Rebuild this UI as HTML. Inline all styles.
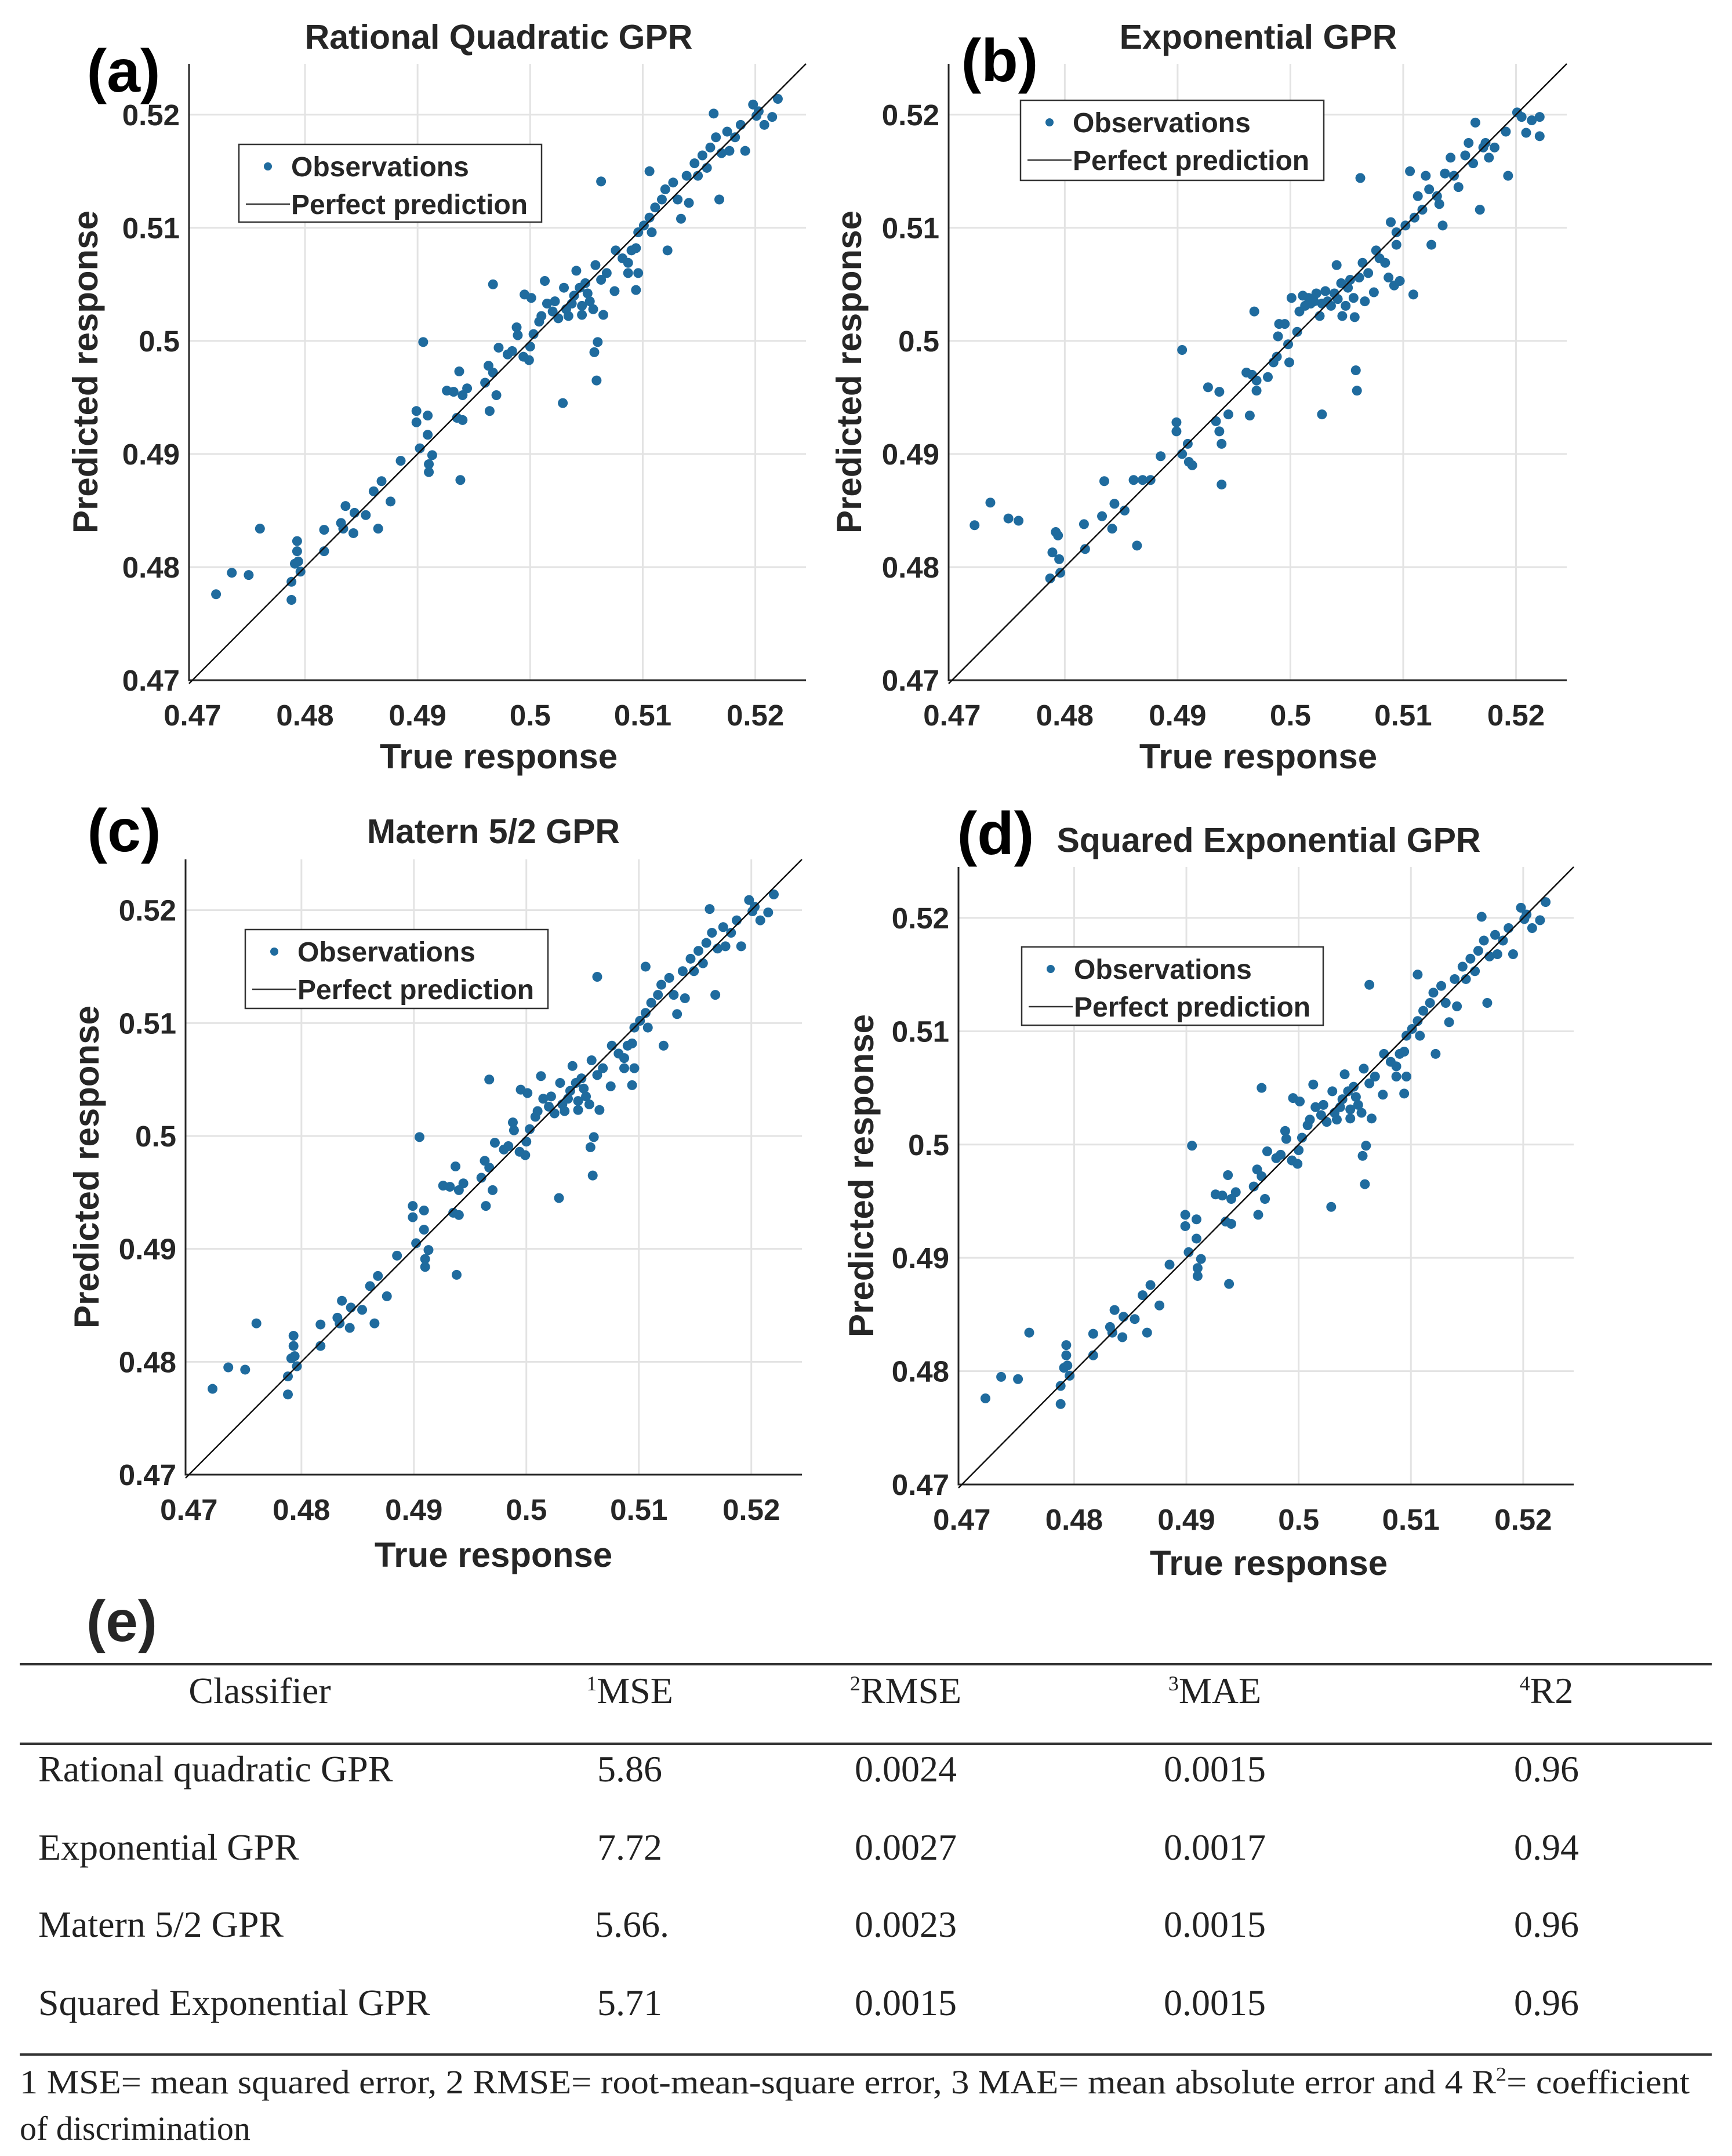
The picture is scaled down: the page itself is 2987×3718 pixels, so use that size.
<!DOCTYPE html>
<html><head><meta charset="utf-8"><style>
html,body{margin:0;padding:0;background:#fff;}
svg{display:block;}
.b{font-family:"Liberation Sans",Arial,sans-serif;font-weight:bold;fill:#262626;}
.s{font-family:"Liberation Serif","Times New Roman",serif;fill:#222;}
</style></head><body>
<svg id="fig" width="2987" height="3718" viewBox="0 0 2987 3718" xmlns="http://www.w3.org/2000/svg">
<rect width="2987" height="3718" fill="#fff"/>
<g id="plots"></g>
<g>
<line x1="34" y1="2870" x2="2952" y2="2870" stroke="#333" stroke-width="4"/>
<line x1="34" y1="3007" x2="2952" y2="3007" stroke="#333" stroke-width="4"/>
<line x1="34" y1="3543" x2="2952" y2="3543" stroke="#333" stroke-width="4"/>
<text class="b" x="210" y="2830" font-size="100" text-anchor="middle">(e)</text>
<g class="s" font-size="64" text-anchor="middle">
<text x="448" y="2937">Classifier</text>
<text x="1086" y="2937"><tspan font-size="36" dy="-22">1</tspan><tspan dy="22">MSE</tspan></text>
<text x="1562" y="2937"><tspan font-size="36" dy="-22">2</tspan><tspan dy="22">RMSE</tspan></text>
<text x="2095" y="2937"><tspan font-size="36" dy="-22">3</tspan><tspan dy="22">MAE</tspan></text>
<text x="2667" y="2937"><tspan font-size="36" dy="-22">4</tspan><tspan dy="22">R2</tspan></text>
</g>
<g class="s" font-size="64">
<text x="66" y="3072">Rational quadratic GPR</text>
<text x="66" y="3207">Exponential GPR</text>
<text x="66" y="3340">Matern 5/2 GPR</text>
<text x="66" y="3475">Squared Exponential GPR</text>
<g text-anchor="middle">
<text x="1086" y="3072">5.86</text><text x="1562" y="3072">0.0024</text><text x="2095" y="3072">0.0015</text><text x="2667" y="3072">0.96</text>
<text x="1086" y="3207">7.72</text><text x="1562" y="3207">0.0027</text><text x="2095" y="3207">0.0017</text><text x="2667" y="3207">0.94</text>
<text x="1090" y="3340">5.66.</text><text x="1562" y="3340">0.0023</text><text x="2095" y="3340">0.0015</text><text x="2667" y="3340">0.96</text>
<text x="1086" y="3475">5.71</text><text x="1562" y="3475">0.0015</text><text x="2095" y="3475">0.0015</text><text x="2667" y="3475">0.96</text>
</g>
</g>
<g class="s" font-size="58">
<text x="34" y="3610" textLength="2880" lengthAdjust="spacingAndGlyphs">1 MSE= mean squared error, 2 RMSE= root-mean-square error, 3 MAE= mean absolute error and 4 R<tspan font-size="34" dy="-22">2</tspan><tspan dy="22">= coefficient</tspan></text>
<text x="34" y="3690">of discrimination</text>
</g>
</g>
</svg>
<script>
const xTicks = [0.47, 0.48, 0.49, 0.5, 0.51, 0.52];
const yTicks = [0.47, 0.48, 0.49, 0.5, 0.51, 0.52];
const tickLabels = ["0.47", "0.48", "0.49", "0.5", "0.51", "0.52"];
const panelTitles = ["Rational Quadratic GPR", "Exponential GPR", "Matern 5/2 GPR", "Squared Exponential GPR"];

const aTrue = [.4721,.4735,.4750,.4760,.4788,.4788,.4791,.4793,.4793,.4796,.4794,.4817,.4817,.4832,.4836,.4834,.4843,.4844,.4854,.4861,.4865,.4868,.4876,.4885,.4899,.4899,.4902,.4905,.4909,.4909,.4910,.4910,.4913,.4926,.4932,.4935,.4937,.4940,.4938,.4940,.4944,.4960,.4964,.4963,.4967,.4970,.4972,.4967,.4980,.4984,.4988,.4989,.4994,.4999,.5000,.4995,.5001,.5003,.5008,.5013,.5010,.5015,.5020,.5022,.5025,.5029,.5030,.5032,.5034,.5037,.5039,.5041,.5044,.5046,.5046,.5049,.5051,.5053,.5056,.5058,.5057,.5059,.5060,.5063,.5063,.5065,.5068,.5075,.5076,.5082,.5087,.5090,.5094,.5096,.5096,.5087,.5094,.5101,.5106,.5106,.5108,.5111,.5117,.5120,.5122,.5127,.5131,.5134,.5139,.5141,.5146,.5149,.5153,.5157,.5160,.5163,.5165,.5168,.5170,.5175,.5177,.5182,.5187,.5191,.5198,.5203,.5208,.5215,.5220,.5201];
const aPred = [.4776,.4795,.4793,.4834,.4771,.4787,.4803,.4823,.4814,.4796,.4805,.4814,.4833,.4839,.4854,.4834,.4830,.4848,.4846,.4867,.4834,.4876,.4858,.4894,.4938,.4928,.4905,.4999,.4917,.4934,.4891,.4884,.4899,.4956,.4955,.4932,.4973,.4952,.4877,.4930,.4958,.4963,.4938,.4978,.4972,.4952,.4994,.5050,.4988,.4991,.5012,.5005,.4986,.4983,.4995,.5041,.5038,.5006,.5017,.5053,.5022,.5033,.5026,.5035,.5020,.4945,.5047,.5028,.5022,.5033,.5040,.5062,.5047,.5031,.5023,.5051,.5042,.5035,.5028,.5067,.4990,.4965,.4999,.5141,.5054,.5023,.5060,.5044,.5080,.5073,.5069,.5080,.5082,.5096,.5060,.5060,.5045,.5102,.5109,.5150,.5096,.5118,.5125,.5134,.5080,.5140,.5125,.5108,.5146,.5122,.5157,.5146,.5164,.5153,.5171,.5201,.5180,.5125,.5166,.5185,.5168,.5180,.5191,.5168,.5209,.5203,.5191,.5198,.5214,.5199];

const bTrue = [.4720,.4734,.4750,.4759,.4787,.4789,.4792,.4794,.4795,.4796,.4817,.4818,.4833,.4835,.4842,.4844,.4853,.4861,.4864,.4869,.4876,.4885,.4899,.4899,.4904,.4904,.4909,.4910,.4913,.4927,.4934,.4937,.4937,.4939,.4939,.4945,.4961,.4964,.4968,.4966,.4970,.4970,.4980,.4985,.4988,.4989,.4990,.4995,.4998,.4999,.5001,.5006,.5008,.5011,.5013,.5016,.5018,.5021,.5023,.5026,.5028,.5028,.5031,.5033,.5036,.5039,.5041,.5042,.5045,.5046,.5049,.5051,.5053,.5056,.5057,.5058,.5059,.5061,.5062,.5064,.5066,.5069,.5074,.5076,.5079,.5084,.5087,.5089,.5092,.5094,.5094,.5097,.5102,.5106,.5109,.5110,.5113,.5117,.5120,.5123,.5125,.5130,.5132,.5135,.5137,.5142,.5145,.5149,.5155,.5158,.5162,.5164,.5168,.5171,.5173,.5176,.5181,.5191,.5193,.5201,.5205,.5209,.5214,.5221,.5221];
const bPred = [.4837,.4857,.4843,.4841,.4790,.4813,.4831,.4828,.4807,.4795,.4838,.4816,.4845,.4876,.4834,.4856,.4850,.4877,.4819,.4877,.4877,.4898,.4928,.4920,.4992,.4900,.4909,.4893,.4890,.4959,.4929,.4955,.4920,.4909,.4873,.4935,.4972,.4934,.5026,.4970,.4956,.4965,.4968,.4981,.4986,.5004,.5015,.5015,.4997,.4981,.5038,.5008,.5026,.5040,.5031,.5038,.5033,.5035,.5042,.5022,.4935,.5033,.5044,.5035,.5031,.5042,.5067,.5037,.5051,.5022,.5031,.5047,.5054,.5038,.5021,.4974,.4956,.5056,.5144,.5069,.5035,.5060,.5043,.5080,.5073,.5069,.5056,.5105,.5049,.5085,.5096,.5053,.5102,.5150,.5041,.5109,.5128,.5116,.5146,.5134,.5085,.5128,.5121,.5102,.5148,.5162,.5146,.5136,.5164,.5175,.5157,.5193,.5116,.5171,.5175,.5162,.5171,.5185,.5146,.5202,.5198,.5184,.5195,.5198,.5181];

const cTrue = [...aTrue];
const cPred = [...aPred];
const dTrue = [...aTrue];
const dPred = [...aPred];

const NS = "http://www.w3.org/2000/svg";
function mk(tag, attrs, parent) {
  const e = document.createElementNS(NS, tag);
  for (const k in attrs) e.setAttribute(k, attrs[k]);
  parent.appendChild(e);
  return e;
}
const panels = [
  {id:"a", L:326, R:1390, T:110, B:1173, tx:860, ty:84, lx:213, ly:158, xlx:860, xly:1325, ylx:168, leg:[412,249,522,134], xs:aTrue, ys:aPred},
  {id:"b", L:1636, R:2702, T:110, B:1173, tx:2170, ty:84, lx:1724, ly:140, xlx:2170, xly:1325, ylx:1485, leg:[1760,173,523,138], xs:bTrue, ys:bPred},
  {id:"c", L:320, R:1383, T:1482, B:2543, tx:851, ty:1454, lx:214, ly:1468, xlx:851, xly:2702, ylx:170, leg:[423,1603,522,136], xs:cTrue, ys:cPred},
  {id:"d", L:1653, R:2714, T:1495, B:2560, tx:2188, ty:1469, lx:1717, ly:1473, xlx:2188, xly:2716, ylx:1506, leg:[1762,1633,520,135], xs:dTrue, ys:dPred}
];
const XMIN = 0.4697, XMAX = 0.5245, YMIN = 0.47, YMAX = 0.5245;
const root = document.getElementById("plots");
panels.forEach((p, i) => {
  const g = mk("g", {}, root);
  
  
  const sx = v => p.L + (v - XMIN) / (XMAX - XMIN) * (p.R - p.L);
  const sy = v => p.B - (v - YMIN) / (YMAX - YMIN) * (p.B - p.T);
  xTicks.forEach(t => { if (t > XMIN + 0.001) { const l = mk("line", {x1:sx(t), x2:sx(t), y1:p.T, y2:p.B, stroke:"#e3e3e3", "stroke-width":3}, g);
      } });
  yTicks.forEach(t => { if (t > YMIN + 0.001) { const l = mk("line", {x1:p.L, x2:p.R, y1:sy(t), y2:sy(t), stroke:"#e3e3e3", "stroke-width":3}, g);
      } });
  const ax = mk("path", {d:`M${p.L} ${p.T}V${p.B}H${p.R}`, fill:"none", stroke:"#262626", "stroke-width":3}, g);
  
  
  xTicks.forEach((t, k) => { const tx = mk("text", {x:sx(t), y:p.B + 78, "font-size":51, "text-anchor":"middle", class:"b"}, g); tx.textContent = tickLabels[k];
      });
  yTicks.forEach((t, k) => { const tx = mk("text", {x:p.L - 16, y:sy(t) + 18, "font-size":51, "text-anchor":"end", class:"b"}, g); tx.textContent = tickLabels[k];
      });
  p.xs.forEach((v, k) => { const c = mk("circle", {cx:sx(v), cy:sy(p.ys[k]), r:8.5, fill:"#1f6b9e"}, g);
      });
  const pl = mk("line", {x1:sx(XMIN), y1:sy(XMIN), x2:sx(XMAX), y2:sy(XMAX), stroke:"#111", "stroke-width":2.5}, g);
  
  
  const ti = mk("text", {x:p.tx, y:p.ty, "font-size":59, "text-anchor":"middle", class:"b"}, g); ti.textContent = panelTitles[i];
   
  const lb = mk("text", {x:p.lx, y:p.ly, "font-size":104, "text-anchor":"middle", class:"b", style:"fill:#000"}, g); lb.textContent = "(" + p.id + ")";
   
  const xl = mk("text", {x:p.xlx, y:p.xly, "font-size":60, "text-anchor":"middle", class:"b"}, g); xl.textContent = "True response";
   
  const yc = (p.T + p.B) / 2;
  const yl = mk("text", {x:p.ylx, y:yc, "font-size":60, "text-anchor":"middle", class:"b", transform:`rotate(-90 ${p.ylx} ${yc})`}, g); yl.textContent = "Predicted response";
   
  const [lx, ly, lw, lh] = p.leg;
  const lg = mk("g", {}, g);
  
  
  mk("rect", {x:lx, y:ly, width:lw, height:lh, fill:"#fff", stroke:"#333", "stroke-width":2.5}, lg);
  const ld = mk("circle", {cx:lx + 50, cy:ly + 38, r:7, fill:"#1f6b9e"}, lg);
   
  const lt1 = mk("text", {x:lx + 90, y:ly + 55, "font-size":48, class:"b"}, lg); lt1.textContent = "Observations";
   
  const ll = mk("line", {x1:lx + 12, x2:lx + 88, y1:ly + 103, y2:ly + 103, stroke:"#333", "stroke-width":2.5}, lg);
   
  const lt2 = mk("text", {x:lx + 90, y:ly + 120, "font-size":48, class:"b"}, lg); lt2.textContent = "Perfect prediction";
   
});
</script>
</body></html>
